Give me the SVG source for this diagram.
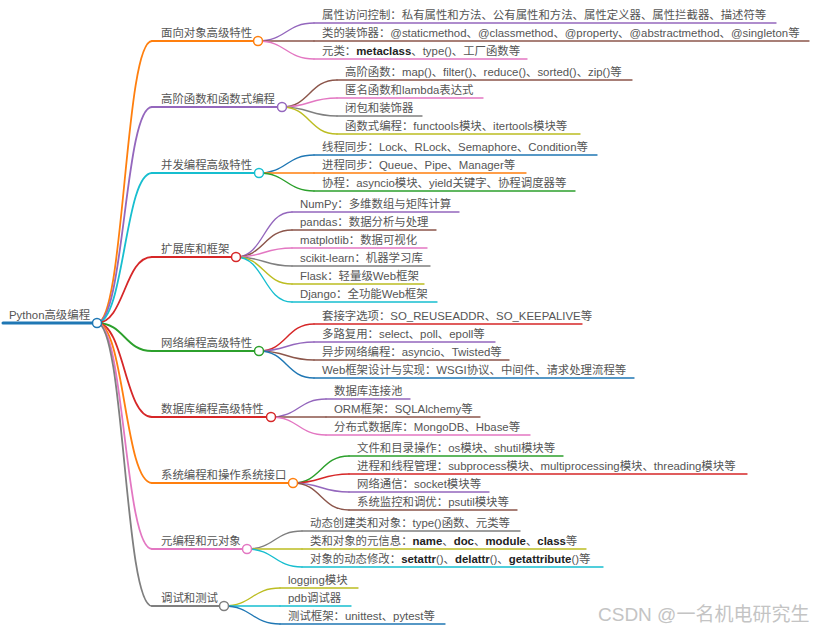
<svg xmlns="http://www.w3.org/2000/svg" width="825" height="633" viewBox="0 0 825 633">
<style>
text{font-family:"Liberation Sans","Noto Sans CJK SC",sans-serif;font-size:11.4px;fill:#555}
.b{font-weight:600;fill:#222}
.wm{font-size:19px;fill:#c4c4c4}
path,line{fill:none;stroke-linecap:round}
#connectors path{stroke-width:1.4}
#connectors .l1{stroke-width:1.8}
.u{stroke-width:1.4}
.u1{stroke-width:1.8}
circle{fill:#fff;stroke-width:1.5}
.s0{stroke:#1f77b4}.s1{stroke:#ff7f0e}.s2{stroke:#2ca02c}.s3{stroke:#d62728}.s4{stroke:#9467bd}
.s5{stroke:#8c564b}.s6{stroke:#e377c2}.s7{stroke:#7f7f7f}.s8{stroke:#bcbd22}.s9{stroke:#17becf}
</style>
<rect width="825" height="633" fill="#fff"/>
<g id="connectors">
<path class="l1 s1" d="M97,323 C124.5,323 124.5,41 152,41"/>
<path class="l1 s4" d="M97,323 C124.5,323 124.5,107 152,107"/>
<path class="l1 s9" d="M97,323 C124.5,323 124.5,173 152,173"/>
<path class="l1 s3" d="M97,323 C124.5,323 124.5,257 152,257"/>
<path class="l1 s2" d="M97,323 C124.5,323 124.5,351 152,351"/>
<path class="l1 s3" d="M97,323 C124.5,323 124.5,417 152,417"/>
<path class="l1 s1" d="M97,323 C124.5,323 124.5,483 152,483"/>
<path class="l1 s6" d="M97,323 C124.5,323 124.5,549 152,549"/>
<path class="l1 s7" d="M97,323 C124.5,323 124.5,606 152,606"/>
<path class="s4" d="M258,41 C286,41 286,23 314,23"/>
<path class="s5" d="M258,41 L314,41"/>
<path class="s6" d="M258,41 C286,41 286,59 314,59"/>
<path class="s5" d="M282,107 C309.5,107 309.5,80 337,80"/>
<path class="s6" d="M282,107 C309.5,107 309.5,98 337,98"/>
<path class="s7" d="M282,107 C309.5,107 309.5,116 337,116"/>
<path class="s8" d="M282,107 C309.5,107 309.5,134 337,134"/>
<path class="s0" d="M259,173 C286.5,173 286.5,155 314,155"/>
<path class="s1" d="M259,173 L314,173"/>
<path class="s2" d="M259,173 C286.5,173 286.5,191 314,191"/>
<path class="s4" d="M236,257 C264,257 264,212 292,212"/>
<path class="s5" d="M236,257 C264,257 264,230 292,230"/>
<path class="s6" d="M236,257 C264,257 264,248 292,248"/>
<path class="s7" d="M236,257 C264,257 264,266 292,266"/>
<path class="s8" d="M236,257 C264,257 264,284 292,284"/>
<path class="s9" d="M236,257 C264,257 264,302 292,302"/>
<path class="s3" d="M259,351 C286.5,351 286.5,324 314,324"/>
<path class="s4" d="M259,351 C286.5,351 286.5,342 314,342"/>
<path class="s5" d="M259,351 C286.5,351 286.5,360 314,360"/>
<path class="s0" d="M259,351 C286.5,351 286.5,378 314,378"/>
<path class="s4" d="M271,417 C298.5,417 298.5,399 326,399"/>
<path class="s5" d="M271,417 L326,417"/>
<path class="s6" d="M271,417 C298.5,417 298.5,435 326,435"/>
<path class="s2" d="M293,483 C321,483 321,456 349,456"/>
<path class="s3" d="M293,483 C321,483 321,474 349,474"/>
<path class="s4" d="M293,483 C321,483 321,492 349,492"/>
<path class="s5" d="M293,483 C321,483 321,510 349,510"/>
<path class="s7" d="M247,549 C274.5,549 274.5,531 302,531"/>
<path class="s8" d="M247,549 L302,549"/>
<path class="s9" d="M247,549 C274.5,549 274.5,567 302,567"/>
<path class="s8" d="M224,606 C252,606 252,588 280,588"/>
<path class="s9" d="M224,606 L280,606"/>
<path class="s0" d="M224,606 C252,606 252,624 280,624"/>
</g>

<g id="n1-1"><line class="u s4" x1="314" y1="23" x2="776" y2="23"/><text x="322" y="19">属性访问控制：私有属性和方法、公有属性和方法、属性定义器、属性拦截器、描述符等</text></g>
<g id="n1-2"><line class="u s5" x1="314" y1="41" x2="809" y2="41"/><text x="322" y="37">类的装饰器：@staticmethod、@classmethod、@property、@abstractmethod、@singleton等</text></g>
<g id="n1-3"><line class="u s6" x1="314" y1="59" x2="527" y2="59"/><text x="322" y="55">元类：<tspan class="b">metaclass</tspan>、type()、工厂函数等</text></g>

<g id="n2-1"><line class="u s5" x1="337" y1="80" x2="632" y2="80"/><text x="345" y="76">高阶函数：map()、filter()、reduce()、sorted()、zip()等</text></g>
<g id="n2-2"><line class="u s6" x1="337" y1="98" x2="483" y2="98"/><text x="345" y="94">匿名函数和lambda表达式</text></g>
<g id="n2-3"><line class="u s7" x1="337" y1="116" x2="422" y2="116"/><text x="345" y="112">闭包和装饰器</text></g>
<g id="n2-4"><line class="u s8" x1="337" y1="134" x2="580" y2="134"/><text x="345" y="130">函数式编程：functools模块、itertools模块等</text></g>

<g id="n3-1"><line class="u s0" x1="314" y1="155" x2="597" y2="155"/><text x="322" y="151">线程同步：Lock、RLock、Semaphore、Condition等</text></g>
<g id="n3-2"><line class="u s1" x1="314" y1="173" x2="526" y2="173"/><text x="322" y="169">进程同步：Queue、Pipe、Manager等</text></g>
<g id="n3-3"><line class="u s2" x1="314" y1="191" x2="575" y2="191"/><text x="322" y="187">协程：asyncio模块、yield关键字、协程调度器等</text></g>

<g id="n4-1"><line class="u s4" x1="292" y1="212" x2="459" y2="212"/><text x="300" y="208">NumPy：多维数组与矩阵计算</text></g>
<g id="n4-2"><line class="u s5" x1="292" y1="230" x2="436" y2="230"/><text x="300" y="226">pandas：数据分析与处理</text></g>
<g id="n4-3"><line class="u s6" x1="292" y1="248" x2="427" y2="248"/><text x="300" y="244">matplotlib：数据可视化</text></g>
<g id="n4-4"><line class="u s7" x1="292" y1="266" x2="430" y2="266"/><text x="300" y="262">scikit-learn：机器学习库</text></g>
<g id="n4-5"><line class="u s8" x1="292" y1="284" x2="424" y2="284"/><text x="300" y="280">Flask：轻量级Web框架</text></g>
<g id="n4-6"><line class="u s9" x1="292" y1="302" x2="437" y2="302"/><text x="300" y="298">Django：全功能Web框架</text></g>

<g id="n5-1"><line class="u s3" x1="314" y1="324" x2="582" y2="324"/><text x="322" y="320">套接字选项：SO_REUSEADDR、SO_KEEPALIVE等</text></g>
<g id="n5-2"><line class="u s4" x1="314" y1="342" x2="495" y2="342"/><text x="322" y="338">多路复用：select、poll、epoll等</text></g>
<g id="n5-3"><line class="u s5" x1="314" y1="360" x2="509" y2="360"/><text x="322" y="356">异步网络编程：asyncio、Twisted等</text></g>
<g id="n5-4"><line class="u s0" x1="314" y1="378" x2="634" y2="378"/><text x="322" y="374">Web框架设计与实现：WSGI协议、中间件、请求处理流程等</text></g>

<g id="n6-1"><line class="u s4" x1="326" y1="399" x2="410" y2="399"/><text x="334" y="395">数据库连接池</text></g>
<g id="n6-2"><line class="u s5" x1="326" y1="417" x2="480" y2="417"/><text x="334" y="413">ORM框架：SQLAlchemy等</text></g>
<g id="n6-3"><line class="u s6" x1="326" y1="435" x2="530" y2="435"/><text x="334" y="431">分布式数据库：MongoDB、Hbase等</text></g>

<g id="n7-1"><line class="u s2" x1="349" y1="456" x2="563" y2="456"/><text x="357" y="452">文件和目录操作：os模块、shutil模块等</text></g>
<g id="n7-2"><line class="u s3" x1="349" y1="474" x2="747" y2="474"/><text x="357" y="470">进程和线程管理：subprocess模块、multiprocessing模块、threading模块等</text></g>
<g id="n7-3"><line class="u s4" x1="349" y1="492" x2="489" y2="492"/><text x="357" y="488">网络通信：socket模块等</text></g>
<g id="n7-4"><line class="u s5" x1="349" y1="510" x2="517" y2="510"/><text x="357" y="506">系统监控和调优：psutil模块等</text></g>

<g id="n8-1"><line class="u s7" x1="302" y1="531" x2="520" y2="531"/><text x="310" y="527">动态创建类和对象：type()函数、元类等</text></g>
<g id="n8-2"><line class="u s8" x1="302" y1="549" x2="586" y2="549"/><text x="310" y="545">类和对象的元信息：<tspan class="b">name</tspan>、<tspan class="b">doc</tspan>、<tspan class="b">module</tspan>、<tspan class="b">class</tspan>等</text></g>
<g id="n8-3"><line class="u s9" x1="302" y1="567" x2="603" y2="567"/><text x="310" y="563">对象的动态修改：<tspan class="b">setattr</tspan>()、<tspan class="b">delattr</tspan>()、<tspan class="b">getattribute</tspan>()等</text></g>

<g id="n9-1"><line class="u s8" x1="280" y1="588" x2="358" y2="588"/><text x="288" y="584">logging模块</text></g>
<g id="n9-2"><line class="u s9" x1="280" y1="606" x2="351" y2="606"/><text x="288" y="602">pdb调试器</text></g>
<g id="n9-3"><line class="u s0" x1="280" y1="624" x2="445" y2="624"/><text x="288" y="620">测试框架：unittest、pytest等</text></g>

<g id="n1"><line class="u1 s1" x1="152" y1="41" x2="258" y2="41"/><circle class="s1" cx="258" cy="41" r="4.5"/><text x="161" y="37">面向对象高级特性</text></g>
<g id="n2"><line class="u1 s4" x1="152" y1="107" x2="282" y2="107"/><circle class="s4" cx="282" cy="107" r="4.5"/><text x="161" y="103">高阶函数和函数式编程</text></g>
<g id="n3"><line class="u1 s9" x1="152" y1="173" x2="259" y2="173"/><circle class="s9" cx="259" cy="173" r="4.5"/><text x="161" y="169">并发编程高级特性</text></g>
<g id="n4"><line class="u1 s3" x1="152" y1="257" x2="236" y2="257"/><circle class="s3" cx="236" cy="257" r="4.5"/><text x="161" y="253">扩展库和框架</text></g>
<g id="n5"><line class="u1 s2" x1="152" y1="351" x2="259" y2="351"/><circle class="s2" cx="259" cy="351" r="4.5"/><text x="161" y="347">网络编程高级特性</text></g>
<g id="n6"><line class="u1 s3" x1="152" y1="417" x2="271" y2="417"/><circle class="s3" cx="271" cy="417" r="4.5"/><text x="161" y="413">数据库编程高级特性</text></g>
<g id="n7"><line class="u1 s1" x1="152" y1="483" x2="293" y2="483"/><circle class="s1" cx="293" cy="483" r="4.5"/><text x="161" y="479">系统编程和操作系统接口</text></g>
<g id="n8"><line class="u1 s6" x1="152" y1="549" x2="247" y2="549"/><circle class="s6" cx="247" cy="549" r="4.5"/><text x="161" y="545">元编程和元对象</text></g>
<g id="n9"><line class="u1 s7" x1="152" y1="606" x2="224" y2="606"/><circle class="s7" cx="224" cy="606" r="4.5"/><text x="161" y="602">调试和测试</text></g>

<g id="root"><line class="s0" x1="3" y1="323" x2="97" y2="323" stroke-width="3" stroke-linecap="butt"/><circle class="s0" cx="97" cy="323" r="4.5"/><text x="9" y="319">Python高级编程</text></g>

<text class="wm" x="598" y="621">CSDN @一名机电研究生</text>
</svg>
